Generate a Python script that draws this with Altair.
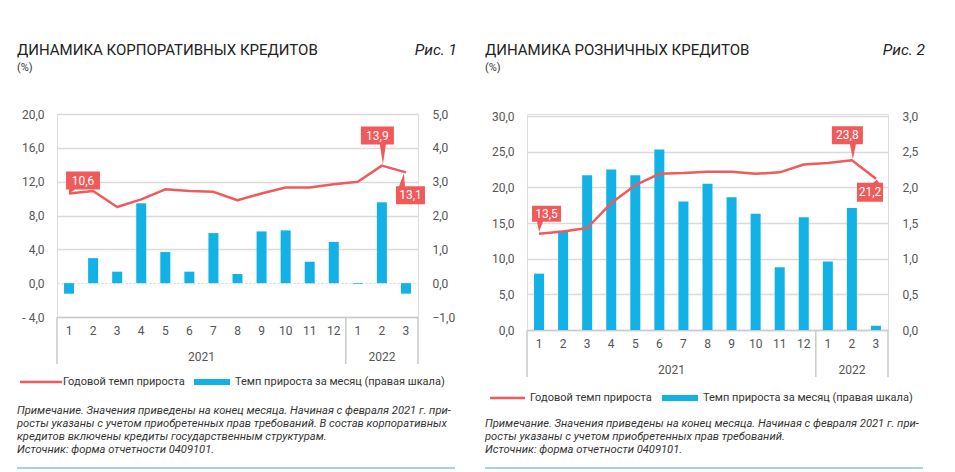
import altair as alt
import pandas as pd

# ---------------- data ----------------
months = ["1", "2", "3", "4", "5", "6", "7", "8", "9", "10", "11", "12", "1", "2", "3"]
years = ["2021"] * 12 + ["2022"] * 3
keys = [f"{y}-{m}" for y, m in zip(years, months)]

# Fig. 1 corporate loans
corp_annual = [10.6, 10.9, 9.0, 9.9, 11.1, 10.9, 10.8, 9.8, 10.6, 11.3, 11.3, 11.7, 12.0, 13.9, 13.1]
corp_monthly = [-0.31, 0.74, 0.34, 2.36, 0.92, 0.34, 1.48, 0.27, 1.53, 1.56, 0.63, 1.22, -0.02, 2.39, -0.31]

# Fig. 2 retail loans
retail_annual = [13.5, 13.8, 14.3, 17.8, 20.3, 21.9, 22.0, 22.2, 22.2, 21.9, 22.1, 23.2, 23.4, 23.8, 21.2]
retail_monthly = [0.79, 1.39, 2.17, 2.25, 2.17, 2.53, 1.80, 2.05, 1.86, 1.63, 0.88, 1.58, 0.96, 1.71, 0.06]

corp_left_ticks = [-4, 0, 4, 8, 12, 16, 20]
corp_right_ticks = [-1, 0, 1, 2, 3, 4, 5]
retail_left_ticks = [0, 5, 10, 15, 20, 25, 30]
retail_right_ticks = [0, 0.5, 1, 1.5, 2, 2.5, 3]

corp_title = "ДИНАМИКА КОРПОРАТИВНЫХ КРЕДИТОВ"
retail_title = "ДИНАМИКА РОЗНИЧНЫХ КРЕДИТОВ"
corp_fig = "Рис. 1"
retail_fig = "Рис. 2"
unit_text = "(%)"
legend_line_text = "Годовой темп прироста"
legend_bar_text = "Темп прироста за месяц (правая шкала)"
corp_notes = [
    "Примечание. Значения приведены на конец месяца. Начиная с февраля 2021 г. при-",
    "росты указаны с учетом приобретенных прав требований. В состав корпоративных",
    "кредитов включены кредиты государственным структурам.",
    "Источник: форма отчетности 0409101.",
]
retail_notes = [
    "Примечание. Значения приведены на конец месяца. Начиная с февраля 2021 г. при-",
    "росты указаны с учетом приобретенных прав требований.",
    "Источник: форма отчетности 0409101.",
]

# ---------------- style ----------------
RED = "#f05a5b"
BLUE = "#12b2e6"
GRID = "#dadada"
BOX = "#cacaca"
SEP = "#7cc6ea"
TXT = "#333333"
AX = "#555555"
FONT = "Roboto"


def one(s=""):
    return alt.Chart(pd.DataFrame({"t": [s]}))


def txt(s, x, y, **kw):
    kw.setdefault("font", FONT)
    kw.setdefault("color", TXT)
    return one(s).mark_text(**kw).encode(x=alt.value(x), y=alt.value(y), text="t:N")


def panel(annual, monthly, lt, rt, spaced_neg, cfg):
    W, H, top = cfg["W"], cfg["H"], cfg["top"]
    df = pd.DataFrame({
        "key": keys, "month": months, "year": years,
        "annual": annual, "monthly": monthly, "idx": list(range(len(keys))),
    })
    base = alt.Chart(df)
    xscale = alt.Scale(domain=keys, paddingInner=0, paddingOuter=0)
    xaxis = alt.Axis(title=None, labelExpr="split(datum.value, '-')[1]", labelAngle=0,
                     ticks=False, domain=True, domainColor=BOX, domainWidth=1.5,
                     labelPadding=8, labelFontSize=12, labelColor=AX, labelFont=FONT, grid=False)

    def X(bp=None):
        if bp is None:
            return alt.X("key:O", scale=xscale, axis=xaxis)
        return alt.X("key:O", scale=xscale, axis=xaxis, bandPosition=bp)

    yL = alt.Scale(domain=[lt[0], lt[-1]], nice=False, zero=False, range=[H, top])
    yR = alt.Scale(domain=[rt[0], rt[-1]], nice=False, zero=False, range=[H, top])

    if spaced_neg:
        lexpr = "(datum.value < 0 ? '- ' : '') + replace(format(abs(datum.value), '.1f'), '.', ',')"
    else:
        lexpr = "replace(format(datum.value, '.1f'), '.', ',')"
    rexpr = "replace(format(datum.value, '.1f'), '.', ',')"

    grid_dash = {"condition": {"test": "datum.value === 0", "value": [2, 2]}, "value": []} if cfg["dash0"] else []

    bars = base.mark_bar(size=10, color=BLUE).encode(
        x=X(),
        y=alt.Y("monthly:Q", scale=yR, axis=alt.Axis(
            orient="right", values=rt, labelExpr=rexpr, grid=False, domain=False, ticks=False,
            labelPadding=14, labelFontSize=12, labelColor=AX, labelFont=FONT, title=None)),
    )
    line = base.mark_line(color=RED, strokeWidth=2.5, strokeJoin="round").encode(
        x=X(),
        y=alt.Y("annual:Q", scale=yL, axis=alt.Axis(
            orient="left", values=lt, labelExpr=lexpr, grid=True, gridColor=GRID, gridWidth=1.4,
            gridDash=grid_dash, domain=False, ticks=False, labelPadding=13, labelFontSize=12,
            labelColor=AX, labelFont=FONT, title=None)),
    )

    layers = [bars, line]

    # box separators under the axis
    rule_kw = dict(color=BOX, strokeWidth=1.5)
    layers.append(base.transform_filter("datum.month == '1'").mark_rule(**rule_kw).encode(
        x=X(0), y=alt.value(H), y2=alt.value(H + 47)))
    layers.append(base.transform_filter(f"datum.idx == {len(keys) - 1}").mark_rule(**rule_kw).encode(
        x=X(1), y=alt.value(H), y2=alt.value(H + 47)))

    # year labels centred under their months
    for yv in dict.fromkeys(years):
        ks = [k for k, y in zip(keys, years) if y == yv]
        n = len(ks)
        anchor, bp = (ks[n // 2 - 1], 1) if n % 2 == 0 else (ks[n // 2], 0.5)
        layers.append(alt.Chart(pd.DataFrame({"key": [anchor], "year": [yv]})).mark_text(
            font=FONT, fontSize=12, color=AX, baseline="middle").encode(
            x=X(bp), y=alt.value(H + 40), text="year:N"))

    # callouts
    for i, box, tri, tc in cfg["callouts"]:
        x0, x1, y0, y1 = box
        path = (f"M{x0},{y0}L{x1},{y0}L{x1},{y1}L{x0},{y1}Z"
                f"M{tri[0][0]},{tri[0][1]}L{tri[1][0]},{tri[1][1]}L{tri[2][0]},{tri[2][1]}Z")
        sel = base.transform_filter(f"datum.idx == {i}").transform_calculate(
            lbl="replace(format(datum.annual, '.1f'), '.', ',')")
        layers.append(sel.mark_point(shape=path, size=4, filled=True, color=RED, opacity=1,
                                     strokeWidth=0).encode(
            x=X(), y=alt.Y("annual:Q", scale=yL, axis=None)))
        layers.append(sel.mark_text(color="white", fontSize=12, font=FONT, dx=tc[0], dy=tc[1],
                                    align="center", baseline="middle").encode(
            x=X(), y=alt.Y("annual:Q", scale=yL, axis=None), text="lbl:N"))

    # titles
    L, R = cfg["left"], cfg["right"]
    layers.append(txt(cfg["title"], L, cfg["ty"], fontSize=15, color="#222222", align="left",
                      baseline="alphabetic"))
    layers.append(txt(unit_text, L, cfg["ty"] + 16, fontSize=11, align="left", baseline="alphabetic"))
    layers.append(txt(cfg["fig"], R, cfg["ty"], fontSize=15.5, color="#222222", fontStyle="italic",
                      align="right", baseline="alphabetic"))

    # legend
    ly = cfg["ly"]
    layers.append(one().mark_rule(color=RED, strokeWidth=2.5).encode(
        x=alt.value(cfg["lg"][0]), x2=alt.value(cfg["lg"][1]), y=alt.value(ly)))
    layers.append(txt(legend_line_text, cfg["lg"][2], ly, fontSize=11, align="left", baseline="middle"))
    layers.append(one().mark_rect(color=BLUE).encode(
        x=alt.value(cfg["lg"][3]), x2=alt.value(cfg["lg"][4]), y=alt.value(ly - 3), y2=alt.value(ly + 3)))
    layers.append(txt(legend_bar_text, cfg["lg"][5], ly, fontSize=11, align="left", baseline="middle"))

    # notes
    layers.append(txt("\n".join(cfg["notes"]), L, cfg["ny"], fontSize=11.2, fontStyle="italic",
                      align="left", baseline="top", lineBreak="\n", lineHeight=13))

    # bottom separator
    layers.append(one().mark_rule(color=SEP, strokeWidth=1.5).encode(
        x=alt.value(L), x2=alt.value(R - 2), y=alt.value(cfg["sy"])))

    return alt.layer(*layers).resolve_scale(y="independent").properties(width=W, height=H)


left = panel(
    corp_annual, corp_monthly, corp_left_ticks, corp_right_ticks, True,
    dict(W=361, H=203, top=0, dash0=True, title=corp_title, fig=corp_fig, left=-40, right=400, ty=-59,
         ly=268, lg=(-37, 5, 6, 137, 173, 178), notes=corp_notes, ny=291, sy=354,
         callouts=[
             (0, (-3, 31, -22, -4), ((0, -4), (6, -4), (0, 0)), (14, -13)),
             (13, (-21, 12, -39, -21), ((-2, -21), (4, -21), (1, -1)), (-4.5, -30)),
             (14, (-10, 19, 14, 32), ((-7, 14), (-1, 14), (-2, 1)), (4.5, 23)),
         ]),
)

right = panel(
    retail_annual, retail_monthly, retail_left_ticks, retail_right_ticks, False,
    dict(W=361, H=216, top=2, dash0=False, title=retail_title, fig=retail_fig, left=-42, right=398, ty=-59,
         ly=284, lg=(-37, -2, 3, 135, 171, 176), notes=retail_notes, ny=303.5, sy=354,
         callouts=[
             (0, (-7, 22, -28, -12), ((-2, -12), (4, -12), (0, -2)), (7.5, -20)),
             (13, (-20, 11, -34, -16), ((-2, -16), (4, -16), (1, -1)), (-4.5, -25)),
             (14, (-19, 7, 4, 23), ((-3, 4), (3, 4), (1, 1)), (-6, 13.5)),
         ]),
)

chart = alt.hconcat(left, right, spacing=25).properties(
    padding={"left": 7, "top": 34, "right": 5, "bottom": 2}
).configure_view(stroke=None).configure(background="white")

chart.save("out.html", embed_options={"renderer": "svg", "actions": False})
